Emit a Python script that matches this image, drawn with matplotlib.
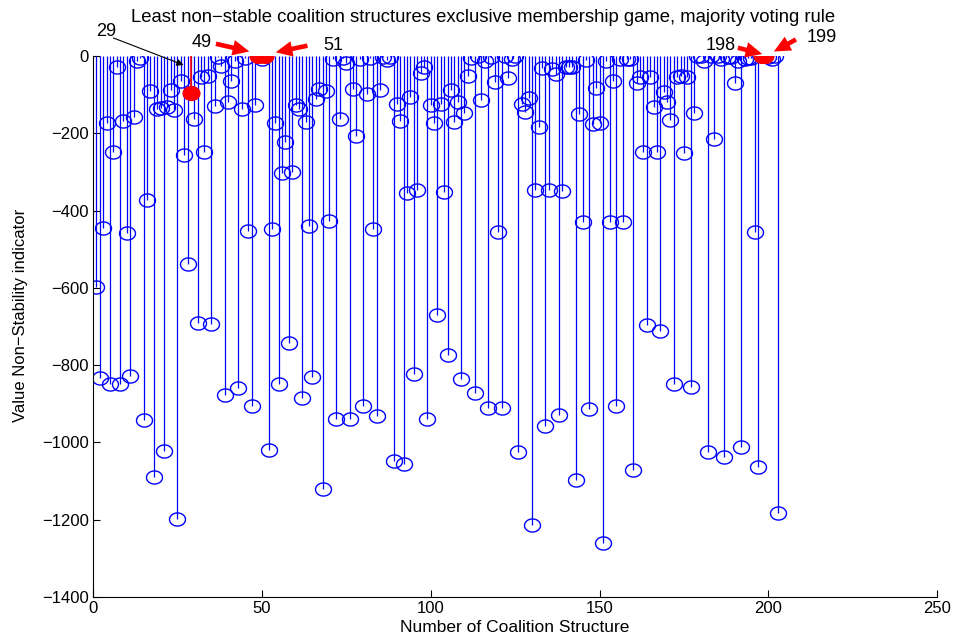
import matplotlib
matplotlib.use('Agg')
import matplotlib.pyplot as plt
from matplotlib.path import Path
import numpy as np

plt.rcParams['font.family'] = ['Liberation Sans', 'DejaVu Sans']

# non-stability indicator for coalition structures 1..203
values = [
    -598, -834, -446, -173, -850, -248, -28, -849, -168, -459,
    -828, -157, -12, -5, -942, -373, -90, -1089, -137, -135,
    -1022, -131, -88, -140, -1197, -66, -256, -538, -97, -164,
    -690, -55, -248, -52, -694, -130, -2, -25, -877, -120,
    -66, -12, -858, -138, -6, -452, -907, -127, 0, -8,
    0, -1020, -448, -173, -850, -302, -223, -742, -301, -128,
    -137, -886, -170, -439, -830, -111, -85, -1121, -91, -426,
    -9, -940, -164, -6, -19, -940, -86, -207, -9, -907,
    -98, -6, -449, -932, -88, -2, -10, -2, -1047, -125,
    -168, -1056, -354, -107, -824, -347, -45, -29, -940, -127,
    -174, -670, -124, -351, -774, -88, -172, -118, -837, -147,
    -51, -5, -872, -1, -114, -14, -912, -3, -68, -455,
    -912, 0, -58, -7, 0, -1025, -125, -146, -109, -1215,
    -348, -183, -31, -958, -348, -35, -47, -930, -350, -28,
    -28, -28, -1097, -149, -430, -10, -914, -177, -84, -174,
    -1260, -12, -429, -66, -905, -8, -430, -8, -8, -1071,
    -71, -55, -248, -696, -55, -133, -249, -713, -92, -118,
    -166, -850, -55, -53, -250, -55, -856, -148, 0, -1,
    -12, -1026, 0, -215, 0, -9, -1037, -2, -2, -71,
    -12, -1011, -8, -6, -6, -455, -1063, 0, 0, -2,
    -9, -1, -1182,
]
structures = list(range(1, len(values) + 1))

# least non-stable structures highlighted in red
highlight = [29, 49, 51, 198, 199]

# annotation labels: text pos, arrow tail, arrow head (data coords)
labels = ['29', '49', '51', '198', '199']
label_pos = [(4.0, 62), (32.3, 36), (71.1, 26), (185.8, 28), (215.7, 49)]
arrow_tail = [(5.3, 49), (35.6, 33), (64.3, 28), (190.2, 23), (208.9, 46)]
arrow_head = [(27.6, -26), (47.1, 10), (53.3, 8), (199.0, 3), (200.9, 8)]

# slightly flattened circle, like the stretched MATLAB output
t = np.linspace(0, 2 * np.pi, 60)
oval = Path(np.column_stack([np.cos(t), 0.82 * np.sin(t)]), closed=True)

fig = plt.figure(figsize=(9.56, 6.38), dpi=100)
ax = fig.add_axes([0.0973, 0.0643, 0.883, 0.848])

blue = (0, 0, 1)
red = (1, 0, 0)

ml, sl, bl = ax.stem(structures, values, linefmt='-', markerfmt='o', basefmt=' ')
plt.setp(sl, color=blue, linewidth=0.9)
plt.setp(ml, marker=oval, markerfacecolor='none', markeredgecolor=blue,
         markersize=11.5, markeredgewidth=1.0)

hx = highlight
hy = [values[i - 1] for i in highlight]
ml2, sl2, bl2 = ax.stem(hx, hy, linefmt='-', markerfmt='o', basefmt=' ')
plt.setp(sl2, color=red, linewidth=1.2)
plt.setp(ml2, marker=oval, markerfacecolor=red, markeredgecolor=red, markersize=12)

for i, lab in enumerate(labels):
    ax.text(label_pos[i][0], label_pos[i][1], lab, ha='center', va='center',
            fontsize=13, clip_on=False)
    if lab == '29':
        props = dict(arrowstyle='-|>', color='black', lw=0.8, mutation_scale=10)
    else:
        props = dict(arrowstyle='simple,head_width=0.75,head_length=0.8,tail_width=0.22',
                     color=red, lw=0, mutation_scale=15)
    ax.annotate('', xy=arrow_head[i], xytext=arrow_tail[i],
                arrowprops=props, annotation_clip=False)

ax.set_xlim(0, 250)
ax.set_ylim(-1400, 0)
ax.set_xticks(np.arange(0, 251, 50))
ax.set_yticks(np.arange(-1400, 1, 200))
ax.tick_params(direction='in', length=5, labelsize=12, width=0.8, pad=3)
ax.spines['top'].set_visible(False)
ax.spines['right'].set_visible(False)

ax.set_xlabel('Number of Coalition Structure', fontsize=12.5, labelpad=3)
ax.set_ylabel('Value Non\u2212Stability indicator', fontsize=12)
ax.yaxis.set_label_coords(-0.077, 0.52)
fig.text(483 / 956, 1 - 17 / 638,
         'Least non\u2212stable coalition structures exclusive membership game, majority voting rule',
         ha='center', va='center', fontsize=13.3)

fig.savefig('out.png', dpi=100)
